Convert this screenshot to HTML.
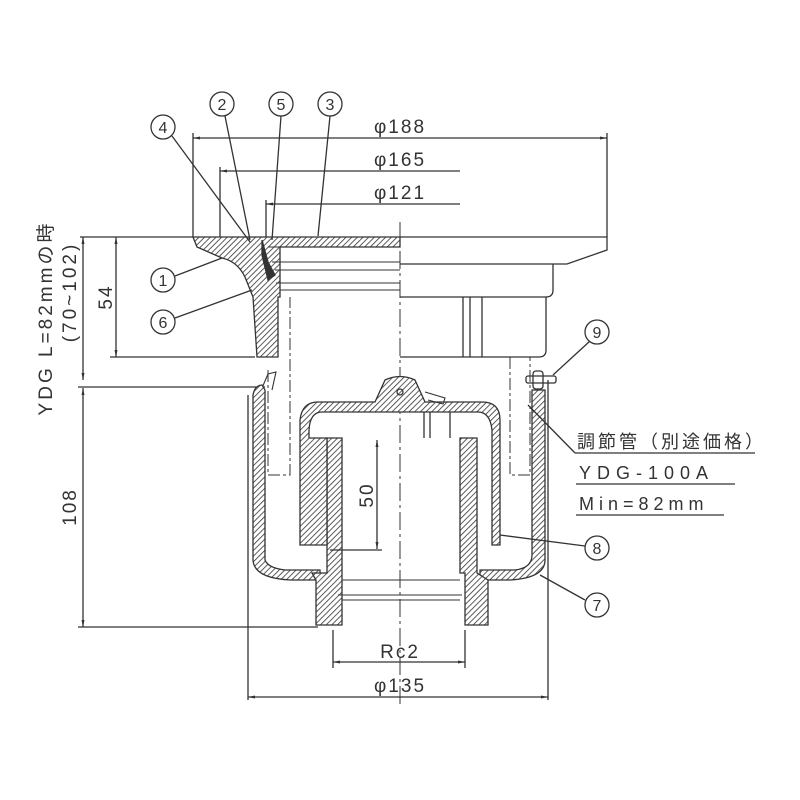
<!DOCTYPE html>
<html><head><meta charset="utf-8"><style>
html,body{margin:0;padding:0;background:#fff;}
svg{display:block}
text{font-family:"Liberation Sans","Noto Sans CJK JP",sans-serif;fill:#333}
</style></head><body>
<svg width="800" height="800" viewBox="0 0 800 800" xmlns="http://www.w3.org/2000/svg">
<defs>
<pattern id="h" patternUnits="userSpaceOnUse" width="4" height="4" patternTransform="rotate(45)">
<rect width="4" height="4" fill="#fff"/><line x1="0" y1="0" x2="0" y2="4" stroke="#333" stroke-width="1.6"/>
</pattern>
<marker id="a" markerWidth="8" markerHeight="8" refX="7" refY="3" orient="auto-start-reverse" markerUnits="userSpaceOnUse"><path d="M0,1.5 L7,3 L0,4.5z" fill="#333"/></marker>
</defs>
<g stroke="#333" fill="none" stroke-width="1.3">
<line x1="193" y1="138" x2="607" y2="138" marker-start="url(#a)" marker-end="url(#a)"/>
<line x1="220" y1="171" x2="460" y2="171" marker-start="url(#a)"/>
<line x1="266" y1="204" x2="460" y2="204" marker-start="url(#a)"/>
<line x1="193" y1="133" x2="193" y2="237"/>
<line x1="607" y1="133" x2="607" y2="237"/>
<line x1="220" y1="167" x2="220" y2="237"/>
<line x1="266" y1="200" x2="266" y2="237"/>
<line x1="80" y1="237" x2="193" y2="237"/>
<line x1="110" y1="357" x2="255" y2="357"/>
<line x1="116" y1="237" x2="116" y2="357" marker-start="url(#a)" marker-end="url(#a)"/>
<line x1="83" y1="237" x2="83" y2="380" marker-start="url(#a)" marker-end="url(#a)"/>
<line x1="78" y1="387" x2="265" y2="387"/>
<line x1="83" y1="388" x2="83" y2="627" marker-start="url(#a)" marker-end="url(#a)"/>
<line x1="78" y1="627" x2="318" y2="627"/>
<line x1="400" y1="222" x2="400" y2="705" stroke-dasharray="18,4,3,4" stroke-width="1"/>
<path d="M400,237 H607 V250 L567,264 H400"/>
<path d="M553,264 V290 Q553,297 546,297 H400"/>
<path d="M546,297 V350 Q546,357 539,357 H400"/>
<path d="M463,297 V357 M470,297 V357 M482,297 V357"/>
<path d="M193,237 H400 V247 H280 V297 H278 V357 H257 L253,297 L247,282 Q240,262 222,258 L197,247 Z" fill="url(#h)"/>
<path d="M268,247 H400 M272,262 H400 M275,270 H400 M276,283 H400 M280,290 H400" stroke-width="1.1"/>
<path d="M262,240 L268,262 L275,275 L268,280 L262,255Z" fill="#333"/>
<path d="M268,370 V475 H290 V297" stroke-dasharray="12,3,3,3" stroke-width="1"/>
<path d="M510,357 V475 H530 V357" stroke-dasharray="12,3,3,3" stroke-width="1"/>
<path d="M262,388 L268,374 L276,372 L272,390" stroke-width="1.1"/>
<path d="M253,395 Q255,385 262,385 L265,390 V560 Q268,568 285,570 H320 V580 H290 Q254,578 253,560 Z" fill="url(#h)"/>
<path d="M532,390 H545 V560 Q545,578 510,580 H480 V570 H515 Q532,568 532,555 Z" fill="url(#h)"/>
<line x1="548" y1="380" x2="548" y2="700"/>
<line x1="248" y1="395" x2="248" y2="700"/>
<path d="M327,438 H342 V625 H316 V580 L312,573 H327 Z" fill="url(#h)"/>
<path d="M460,438 H477 V573 L488,580 V625 H465 V573 H460 Z" fill="url(#h)"/>
<path d="M342,580 H460 M338,595 H462 M342,600 H460" stroke-width="1.1"/>
<path d="M300,545 V420 Q302,402 318,402 H375 L385,380 Q400,373 415,380 L425,402 H482 Q500,402 500,420 V545 H492 V430 Q490,412 478,412 H322 Q310,412 309,430 V438 H327 V545 Z" fill="url(#h)"/>
<path d="M425,392 L445,398 L443,404 L428,400" stroke-width="1.1"/>
<path d="M424,412 V438 M430,412 V438 M450,412 V438"/>
<circle cx="400" cy="392" r="3"/>
<line x1="377" y1="440" x2="377" y2="549" marker-start="url(#a)" marker-end="url(#a)"/>
<line x1="330" y1="550" x2="382" y2="550"/>
<line x1="333" y1="630" x2="333" y2="668"/>
<line x1="465" y1="630" x2="465" y2="668"/>
<line x1="333" y1="662" x2="465" y2="662" marker-start="url(#a)" marker-end="url(#a)"/>
<line x1="248" y1="697" x2="548" y2="697" marker-start="url(#a)" marker-end="url(#a)"/>
<rect x="526" y="376" width="30" height="7" rx="2"/>
<rect x="533" y="371" width="10" height="18" rx="3"/>
<path d="M172,136 L250,242 M225,116 L250,240 M281,116 L272,240 M330,116 L318,236 M175,276 L222,258 M175,318 L252,290 M590,341 L553,375 M585,546 L500,535 M585,600 L540,575 M575,453 L528,405"/>
<line x1="575" y1="453" x2="755" y2="453"/>
<line x1="576" y1="484" x2="735" y2="484"/>
<line x1="576" y1="515" x2="724" y2="515"/>
<circle cx="163" cy="127" r="12"/><circle cx="222" cy="104" r="12"/><circle cx="281" cy="104" r="12"/><circle cx="330" cy="104" r="12"/>
<circle cx="163" cy="280" r="12"/><circle cx="163" cy="322" r="12"/>
<circle cx="597" cy="332" r="12"/><circle cx="597" cy="548" r="12"/><circle cx="597" cy="605" r="12"/>
</g>
<g font-size="16" text-anchor="middle">
<text x="163" y="133">4</text><text x="222" y="110">2</text><text x="281" y="110">5</text><text x="330" y="110">3</text>
<text x="163" y="286">1</text><text x="163" y="328">6</text>
<text x="597" y="338">9</text><text x="597" y="554">8</text><text x="597" y="611">7</text>
</g>
<g font-size="19" text-anchor="middle" letter-spacing="2">
<text x="400" y="133">φ188</text>
<text x="400" y="166">φ165</text>
<text x="400" y="199">φ121</text>
<text x="400" y="658">Rc2</text>
<text x="400" y="692">φ135</text>
<text transform="translate(373,495) rotate(-90)">50</text>
<text transform="translate(112,297) rotate(-90)">54</text>
<text transform="translate(76,507) rotate(-90)">108</text>
<text transform="translate(52,318) rotate(-90)" letter-spacing="3">YDG L=82mmの時</text>
<text transform="translate(76,292) rotate(-90)" letter-spacing="3">(70~102)</text>
</g>
<g font-size="18" letter-spacing="3">
<text x="577" y="448">調節管（別途価格）</text>
<text x="579" y="479" letter-spacing="6">YDG-100A</text>
<text x="579" y="510" letter-spacing="5">Min=82mm</text>
</g>
</svg>
</body></html>
